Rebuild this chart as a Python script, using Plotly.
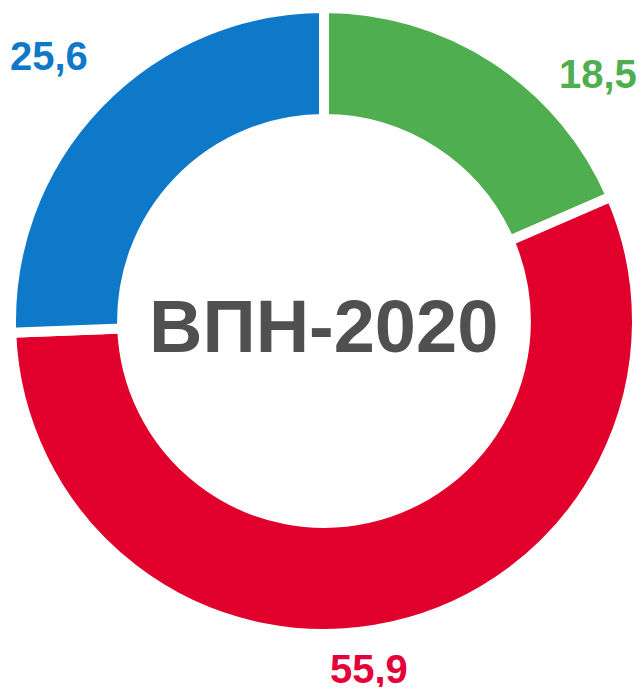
"""Donut chart: ВПН-2020 structure."""

import plotly.graph_objects as go

# data
labels = ["Зелёный", "Красный", "Синий"]
values = [18.5, 55.9, 25.6]
slice_colors = ["#4fae50", "#e0002b", "#0e79c9"]
label_colors = ["#4fae50", "#e6003a", "#0e79c9"]
center_title = "ВПН-2020"

# the page body has an 8px margin, so the figure is drawn 8px in from the corner
BODY = 8
W, H = 636, 679
M = dict(l=3, r=7, t=0, b=53)


def to_paper(px, py):
    # page pixel position -> paper coords of the plot area
    pw = W - M["l"] - M["r"]
    ph = H - M["t"] - M["b"]
    return (px - BODY - M["l"]) / pw, 1 - (py - BODY - M["t"]) / ph


fig = go.Figure()

fig.add_trace(
    go.Pie(
        labels=labels,
        values=values,
        hole=0.645,
        sort=False,
        direction="clockwise",
        rotation=0,
        textinfo="none",
        hoverinfo="label+value",
        marker=dict(colors=slice_colors, line=dict(color="white", width=10)),
        showlegend=False,
    )
)

# value labels outside the ring
label_pos = [(598, 74), (369, 669), (49, 56)]
for v, c, (px, py) in zip(values, label_colors, label_pos):
    x, y = to_paper(px, py)
    fig.add_annotation(
        text=f"{v:.1f}".replace(".", ","),
        x=x, y=y,
        xref="paper", yref="paper",
        xanchor="center", yanchor="middle",
        showarrow=False,
        font=dict(family="Liberation Sans", size=40, color=c, weight="bold"),
    )

cx, cy = to_paper(323, 326)
fig.add_annotation(
    text=center_title,
    x=cx, y=cy,
    xref="paper", yref="paper",
    xanchor="center", yanchor="middle",
    showarrow=False,
    font=dict(family="Liberation Sans", size=74, color="#505050", weight="bold"),
)

fig.update_layout(
    width=W,
    height=H,
    margin=dict(l=M["l"], r=M["r"], t=M["t"], b=M["b"], pad=0),
    paper_bgcolor="white",
    plot_bgcolor="white",
)

fig.write_html("out.html")
